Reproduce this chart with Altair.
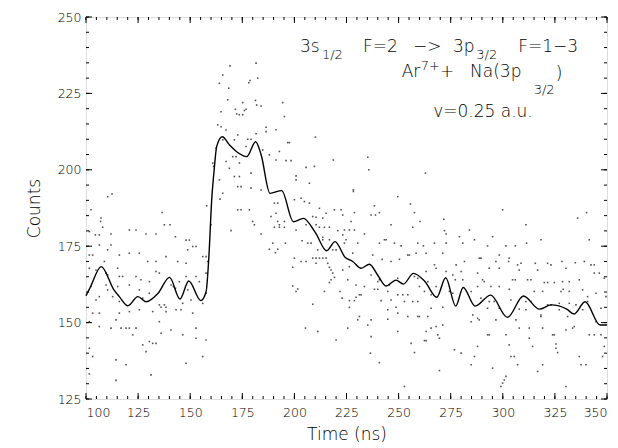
import altair as alt
import pandas as pd

# ---------------- data ----------------
# smoothed curve (time in ns, counts)
line_t = [100, 102, 107.3, 113.4, 116, 120.1, 124.9, 128.9, 134.5, 140.1, 145.1, 149.3, 155.1,
          157.6, 159, 160.3, 161.5, 162.7, 165.4, 169, 172.3, 177.1, 181.4, 184, 188.3, 193.9,
          199.5, 204.3, 210, 215.5, 219.5, 224.3, 228, 232, 236, 240, 244, 248.8, 252.3, 257.1,
          262.7, 268.3, 272.6, 277.4, 281, 286.7, 294.2, 302.2, 309.9, 317.6, 323.1, 330.7,
          334.2, 339.5, 346.7, 350]
line_c = [158.8, 161.5, 168.3, 160.7, 158.5, 155.5, 158.5, 156.8, 159.5, 164.8, 157.7, 163.6, 157.2,
          160, 172, 190, 200, 207.6, 210.8, 208, 205.9, 204.3, 209.2, 205, 192.3, 193.2,
          183.0, 184.1, 179.5, 173.5, 176.5, 171.4, 170, 167.8, 169.1, 165.5, 162, 163.9, 162.6, 166.1,
          163.4, 158.3, 164.7, 155.4, 161.5, 155.4, 159, 151.7, 158.7, 154.4, 155.8, 154.4,
          152.8, 156.8, 149.2, 149.2]

# raw counts, grouped by time range (time in ns, counts)
dots_100_160 = [
    (107, 183.1), (108, 181.2), (101.6, 179.8), (104.5, 178.7), (106.4, 178.7), (112, 179), (120.8, 180.3),
    (124, 180.3), (128.8, 179), (133.6, 179), (137.6, 182), (140.3, 182), (142.9, 178.1), (148, 177),
    (149.6, 177), (160, 182), (106.4, 175.4), (112, 175.4), (101.6, 172.1), (103.2, 172.1), (110.4, 173.8),
    (108.8, 170), (116, 172.1), (120.8, 172.7), (125.6, 172.7), (129.6, 170), (133.6, 170), (138.4, 171.6),
    (144, 170), (148, 169.4), (151.2, 174.9), (152.8, 174.9), (148.8, 173.8), (156, 171.6), (157.6, 171.6),
    (158.4, 170), (101.6, 167.8), (104.8, 167.2), (115.2, 167.8), (109.6, 166.2), (110.4, 165.6), (116, 165.1),
    (117.6, 165.1), (124, 165.1), (126.4, 164), (133.6, 166.7), (135.2, 166.2), (130.4, 163.4), (144.8, 163.4),
    (148, 165.1), (152.8, 165.1), (154.4, 163.4), (157.6, 166.2), (102.4, 161.8), (109.6, 162.3), (110.4, 160.7),
    (115.2, 161.8), (120.8, 162.3), (125.6, 160.7), (130.4, 159.6), (140.8, 162.3), (141.9, 161.8), (142.9, 161.2),
    (148.8, 160.7), (106.4, 158.5), (104.8, 157.4), (112.8, 158.5), (116, 156.9), (127.2, 158), (135.2, 155.8),
    (137.6, 155.8), (136, 155), (138.4, 155), (146.4, 156.3), (150.4, 157.4), (156, 156.3), (157.6, 159.6),
    (103.2, 153.1), (106.4, 153.1), (116, 153.1), (120.8, 153.6), (125.6, 154.2), (132, 153.6), (138.4, 153.6),
    (143.2, 154.2), (145.6, 154.2), (151.2, 153.1), (101.6, 150.3), (106.4, 148.7), (112, 148.2), (116.8, 148.2),
    (119.2, 148.2), (120.8, 148.2), (124, 148.2), (122.4, 146), (114.4, 150.9), (135.2, 150.3), (136, 146.5),
    (140.8, 147.6), (146.4, 146), (152.8, 148.2), (152.8, 144.9), (157.6, 144.3), (130.4, 143.8), (132, 143.2),
    (133.6, 143.2), (127.2, 142.7), (128.8, 140.5), (101.6, 141.6), (103.2, 138.9), (114.4, 137.8), (119.2, 136.2),
    (156, 138.9), (148, 136.7), (101.6, 133.2), (131.2, 132.9), (114.4, 131.1),
    (112.5, 192.1), (110.4, 191.2), (102.4, 186.9), (107.2, 184.2), (136.5, 186), (157.9, 188.2),
]
dots_160_225 = [
    (160.8, 202.2), (161.3, 201.1), (162.4, 207.1),
    (169.1, 234), (181.6, 234.9), (165.6, 231), (164, 228.3), (178.1, 228.5), (178.7, 229.2), (182.4, 230),
    (168.5, 226.7), (168, 222.9), (175.2, 222), (181.3, 222.7), (181.9, 221.2), (184, 220.9), (194.4, 222),
    (164.8, 219), (171.7, 219.8), (172.3, 218.3), (176, 219.4), (176.8, 219.8), (173.6, 218), (175.2, 218),
    (195.2, 217.4), (163.2, 214.7), (164.8, 214.1), (167.2, 213), (186.4, 213.9), (186.4, 212.5), (191.2, 213.1),
    (172.8, 211.4), (181.6, 211.8), (177.6, 210), (179.2, 210), (165.6, 209.8), (171.2, 209.8), (176.8, 207.6),
    (196.8, 208.9), (197.6, 208.9), (210.1, 210.7), (192.8, 206), (184.8, 206.5), (188, 204.9), (170.4, 204.3),
    (172, 204.3), (167.2, 202.7), (173.6, 202.2), (191.2, 203.2), (196, 203), (198.4, 203), (205.6, 200.8),
    (209.6, 201.1), (168.8, 200.5), (171.2, 197.8), (179.2, 198.9), (173.6, 197.8), (200.8, 198), (164, 196.7),
    (172.8, 194.5), (174.4, 194.5), (179.2, 194), (184, 193.4), (200.8, 196.7), (207.2, 195.6), (165.6, 192.3),
    (164.3, 190.4), (190.4, 189.1), (192, 189.1), (203.2, 190.7), (200, 190.2), (204.8, 189.6), (207.2, 189.1),
    (172.8, 186.9), (174.4, 186.9), (178.4, 186.9), (191.2, 185.8), (212, 187.4), (215.2, 185.8), (208.8, 184.7),
    (210.4, 184.5), (188.8, 184.7), (213.6, 184.2), (222.4, 186.9), (223.2, 185.2), (219.2, 186.9), (218.7, 203.2),
    (180, 183.1), (180.8, 182), (169.6, 180.1), (192, 183.1), (192.8, 182), (190.4, 181.2), (192.8, 181.2),
    (195.2, 181.2), (195.2, 183.1), (200.8, 180.3), (184, 179), (205.6, 182), (210.4, 182), (212, 181.2),
    (214.4, 181.2), (216.8, 181.2), (220.8, 180.1), (223.2, 178.7), (224, 180.3), (213.6, 177.9), (213.6, 177.1),
    (216.8, 177.1), (189.6, 176), (195.7, 176), (206.4, 176), (208, 176), (203.7, 176.8), (188, 174), (192, 174),
    (190.9, 172.9), (218.4, 173.8), (220, 173.8), (211.2, 173.8), (224, 176), (200, 171.1), (208.8, 171.1),
    (210.4, 171.1), (212, 171.1), (213.6, 171.1), (215.2, 171.1), (205.6, 170), (203.2, 170), (210.4, 169.4),
    (216, 169.4), (199.2, 168.1), (216.8, 168.1), (217.6, 167.2), (218.4, 166.2), (223.2, 167.2), (217.6, 164),
    (219.2, 164.8), (216.8, 163.1), (199.2, 162), (201.6, 161), (200.8, 160.2), (214.4, 160.2), (221.9, 160.2),
    (222.9, 158), (208.8, 156), (205.3, 148.2), (211.2, 147.1), (220, 144.3),
]
dots_225_287 = [
    (235.2, 204.1), (235.7, 200), (262.9, 198.9), (228.3, 193.4), (228.3, 192.9), (249.6, 191.2), (238.4, 188.2),
    (255.7, 188.8), (228.8, 186), (236.8, 185.2), (238.9, 185.2), (240.8, 186), (257.6, 186), (271.7, 183.8),
    (227.2, 183.1), (246.4, 182), (260.3, 183.1), (256.8, 181.2), (226.4, 180.3), (228.8, 180.3), (233.6, 179),
    (272, 180.1), (272.8, 179), (279.2, 178.1), (284, 180.3), (224.8, 177.1), (243.2, 177.1), (244, 177.1),
    (240.8, 176), (230.4, 176), (248, 176), (251.2, 175.1), (259.2, 176), (261.9, 175.1), (267.2, 176),
    (272.8, 176), (280.8, 176), (286.4, 177.1), (228, 172.7), (237.6, 172.1), (254.4, 172.1), (255.2, 172.1),
    (258.4, 172.7), (263.2, 172.7), (271.2, 172.7), (246.4, 170), (250.4, 170.7), (242.1, 170.7), (281.6, 170),
    (226.4, 168.3), (267.2, 168.9), (268, 167.8), (277.6, 168.9), (272.8, 166.7), (280, 166.7), (263.2, 166.7),
    (225.6, 164), (236.8, 165.6), (249.6, 164.5), (257.6, 165.1), (259.2, 164.5), (264, 163.4), (276, 165.6),
    (277.2, 164), (280.8, 164), (240, 163.4), (240.8, 164), (229.6, 162.3), (233.6, 161.8), (238.4, 160.9),
    (240, 160.9), (245.6, 162.3), (260, 161.8), (268, 161.8), (231.2, 159.1), (232, 159.1), (244.8, 160.2),
    (249.6, 159.1), (252, 159.1), (254.4, 159.1), (262.4, 160.2), (265.6, 159.1), (274.4, 160.2), (276, 159.6),
    (284.8, 160.2), (226.4, 157.2), (228.8, 157.2), (229.6, 158.3), (241.6, 157.2), (246.4, 157.4), (252.8, 156.9),
    (256.8, 156.9), (259.2, 156.9), (226.4, 155), (244.8, 154.2), (248.8, 155), (265.6, 154.7), (271.2, 155),
    (249.6, 153.1), (254.4, 152), (259.2, 152), (260, 152), (264, 152), (285.6, 152.5), (231.2, 152),
    (230.4, 150.9), (236.8, 150.9), (244.8, 151.1), (284.8, 150.3), (225.6, 148.2), (235.2, 149.2), (268, 148.7),
    (271.2, 149.2), (265.6, 148.2), (249.6, 147.1), (268.8, 146), (269.6, 144.9), (263.2, 147.1), (236.8, 145.4),
    (262.4, 144.1), (263.2, 144.1), (256, 143.2), (276.8, 141.1), (280, 140), (257.6, 140.2), (236.5, 140),
    (286.4, 138.9), (240.8, 136.9), (284.8, 136.2), (269.6, 134.3), (252.8, 129.1),
]
dots_287_350 = [
    (299.9, 186.9), (340.2, 186), (335.9, 184.2), (311.1, 182), (295.1, 178.1), (318.3, 177.1), (341.5, 177.1),
    (311.4, 176), (292.7, 175.1), (301.5, 175.1), (306, 175.1), (288.7, 171.1), (289.5, 171.1), (298.3, 172.1),
    (296.7, 170), (303.1, 171.1), (302.8, 170), (328.4, 170), (334.8, 169.6), (339.1, 170), (315.6, 169.4),
    (307.1, 168.9), (308.7, 169.4), (321.5, 169.4), (323.1, 168.9), (293.5, 167.8), (298.3, 167.8), (307.9, 167.2),
    (316.7, 167.2), (330.3, 167.8), (343.9, 166.2), (346.3, 166.2), (287.9, 166.2), (342.3, 168.9), (343.9, 168.9),
    (290.3, 164), (291.1, 163.4), (304.7, 164), (306, 164), (311.9, 164), (313.5, 164), (319.9, 163.1),
    (321.5, 163.1), (324.7, 163.1), (328.7, 163.4), (331.9, 163.4), (336.7, 164), (348.7, 164.5), (294.3, 161.8),
    (298.3, 161.8), (287.9, 161.8), (303.1, 160.9), (315.1, 160.2), (319.1, 160.2), (327.9, 160.2), (329, 160.9),
    (331.9, 160.2), (338.3, 160.7), (340.7, 158.5), (344.7, 159.6), (349.5, 158.5), (289.5, 158), (293.5, 156.9),
    (295.9, 156.9), (303.9, 157.4), (311.1, 156.9), (313.5, 156.9), (321.5, 155.8), (323.1, 155.8), (327.1, 156.3),
    (331.9, 156.3), (335.1, 155.8), (340.7, 156.9), (292.7, 154.7), (298.3, 154.7), (307.9, 154.4), (311.1, 154.2),
    (327.1, 154.2), (338.3, 154.2), (347.1, 154.7), (287.9, 151.4), (288.7, 150.9), (296.7, 150.9), (306.3, 150.9),
    (318.3, 152.5), (318.3, 152), (331.1, 152), (344.7, 150.3), (292.7, 146), (293.5, 146), (301.5, 146),
    (307.9, 148.2), (312.7, 148.2), (319.1, 148.2), (333.5, 148.2), (334.3, 148.7), (323.9, 146), (324.7, 146),
    (330.3, 147.6), (341.5, 146), (343.9, 146), (312.7, 144.9), (347.1, 146), (287.9, 142.2), (303.1, 142.7),
    (314.3, 142.2), (325.5, 143), (325.5, 141.6), (326.3, 140.2), (348.7, 142.2), (303.9, 138.9), (305.5, 138.9),
    (336.7, 138.9), (347.9, 138.9), (307.1, 136.2), (319.1, 136.2), (337.5, 136.2), (339.9, 136.2), (295.1, 135.1),
    (316.7, 134), (301.5, 132.4), (300.7, 131.2), (299.9, 130.2), (299.1, 129.1), (330.3, 129.1),
]

# axes
x_major = [100, 125, 150, 175, 200, 225, 250, 275, 300, 325, 350]
x_minor = list(range(100, 351, 5))
y_major = [125, 150, 175, 200, 225, 250]
y_minor = list(range(125, 251, 5))

# annotation pieces: (time, counts, text, font size)
notes = [
    (202.7, 238.5, "3s", 17), (213.2, 236.3, "1/2", 13), (232.9, 238.5, "F=2", 17),
    (256.9, 238.5, "−>", 17), (276.1, 238.5, "3p", 17), (287.3, 236.3, "3/2", 13),
    (307.4, 238.5, "F=1−3", 17),
    (251.5, 230.3, "Ar", 17), (260.6, 232.7, "7+", 13), (269.9, 230.3, "+", 17),
    (284.3, 230.3, "Na(3p", 17), (314.8, 224.8, "3/2", 13), (325.4, 229.7, ")", 17),
    (266.6, 217.4, "v=0.25 a.u.", 17),
]

# ---------------- chart ----------------
W, H = 521, 382
FONT = "DejaVu Sans"
INK = "#000"
xs = alt.Scale(domain=[100, 350], nice=False, zero=False)
ys = alt.Scale(domain=[125, 250], nice=False, zero=False)

all_dots = dots_100_160 + dots_160_225 + dots_225_287 + dots_287_350
dots_df = pd.DataFrame(all_dots, columns=["t", "c"])
line_df = pd.DataFrame({"t": line_t, "c": line_c})
notes_df = pd.DataFrame(notes, columns=["t", "c", "txt", "fs"])

base_x = alt.X("t:Q", scale=xs, axis=alt.Axis(
    values=x_major, ticks=False, domain=False, grid=False, labelFont=FONT, labelFontSize=12.5,
    labelFontWeight=300, labelColor=INK, labelPadding=7, title="Time (ns)", titleFont=FONT,
    titleFontSize=17, titleFontWeight=300, titleColor=INK, titlePadding=8))
base_y = alt.Y("c:Q", scale=ys, axis=alt.Axis(
    values=y_major, ticks=False, domain=False, grid=False, labelFont=FONT, labelFontSize=12.5,
    labelFontWeight=300, labelColor=INK, labelPadding=5, title="Counts", titleFont=FONT,
    titleFontSize=17, titleFontWeight=300, titleColor=INK, titlePadding=14))

dots = alt.Chart(dots_df).mark_square(size=2.5, color="#333", opacity=0.85).encode(x=base_x, y=base_y)
curve = alt.Chart(line_df).mark_line(color="black", strokeWidth=1.4, interpolate="monotone").encode(
    x=alt.X("t:Q", scale=xs), y=alt.Y("c:Q", scale=ys))


def xticks(vals, length):
    df = pd.DataFrame({"t": vals})
    b = alt.Chart(df).mark_rule(color="black", strokeWidth=1)
    bottom = b.encode(x=alt.X("t:Q", scale=xs), y=alt.value(H), y2=alt.value(H - length))
    top = b.encode(x=alt.X("t:Q", scale=xs), y=alt.value(0), y2=alt.value(length))
    return [bottom, top]


def yticks(vals, length):
    df = pd.DataFrame({"c": vals})
    b = alt.Chart(df).mark_rule(color="black", strokeWidth=1)
    left = b.encode(y=alt.Y("c:Q", scale=ys), x=alt.value(0), x2=alt.value(length))
    right = b.encode(y=alt.Y("c:Q", scale=ys), x=alt.value(W), x2=alt.value(W - length))
    return [left, right]


ticks = xticks(x_minor, 3) + xticks(x_major, 6) + yticks(y_minor, 3) + yticks(y_major, 6)

texts = []
for size in [17, 13]:
    texts.append(alt.Chart(notes_df[notes_df.fs == size]).mark_text(
        align="left", baseline="alphabetic", font=FONT, fontSize=size, fontWeight=300,
        color=INK).encode(
        x=alt.X("t:Q", scale=xs), y=alt.Y("c:Q", scale=ys), text="txt:N"))

chart = alt.layer(dots, curve, *ticks, *texts).properties(
    width=W, height=H,
    padding={"left": 78, "top": 9, "right": 3, "bottom": 45},
    autosize=alt.AutoSizeParams(type="none"),
).configure_view(stroke="black", strokeWidth=1.5).configure(background="white")

chart.save("out.html", embed_options={"renderer": "svg", "actions": False})
